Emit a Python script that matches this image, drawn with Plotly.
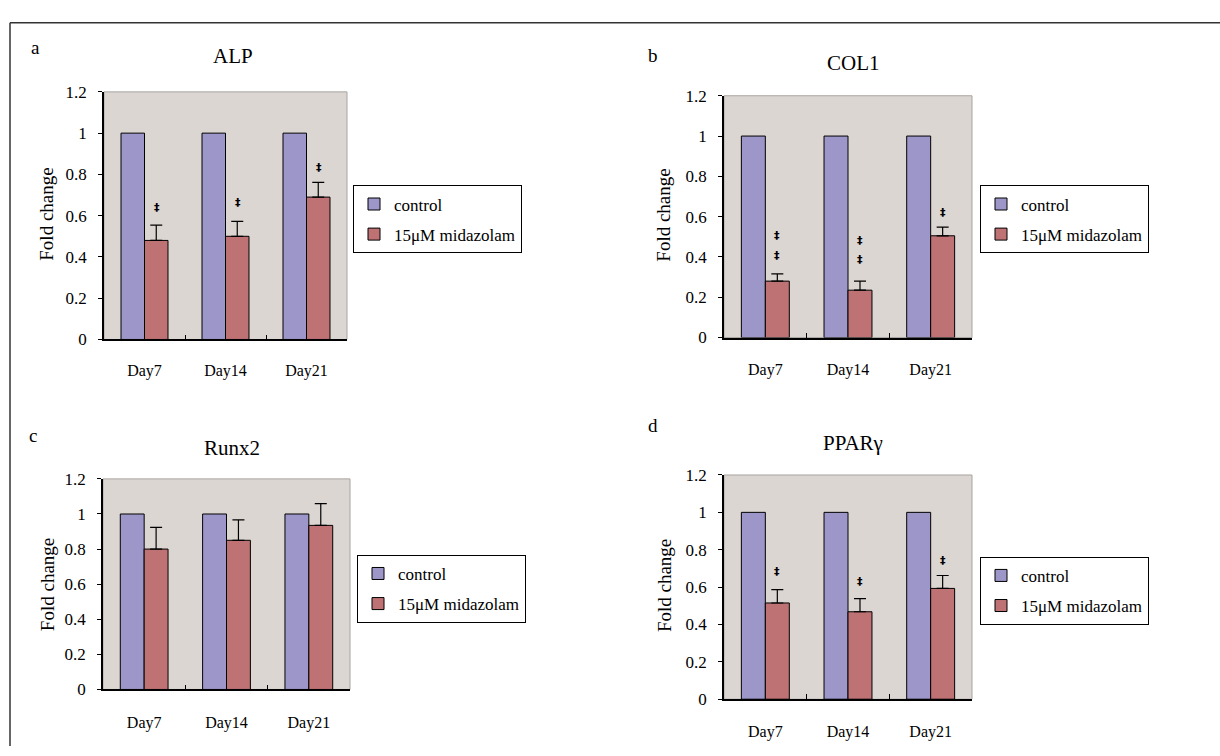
import plotly.graph_objects as go

# ---------------- data ----------------
days = ["Day7", "Day14", "Day21"]
series_names = ["control", "15μM midazolam"]

control_alp = [1.0, 1.0, 1.0]
mid_alp = [0.48, 0.50, 0.69]
err_alp = [0.074, 0.072, 0.071]
star_alp = [[0.64], [0.665], [0.835]]

control_col1 = [1.0, 1.0, 1.0]
mid_col1 = [0.28, 0.235, 0.505]
err_col1 = [0.036, 0.045, 0.043]
star_col1 = [[0.405, 0.506], [0.387, 0.482], [0.62]]

control_runx2 = [1.0, 1.0, 1.0]
mid_runx2 = [0.80, 0.85, 0.935]
err_runx2 = [0.124, 0.117, 0.124]
star_runx2 = [[], [], []]

control_ppar = [1.0, 1.0, 1.0]
mid_ppar = [0.515, 0.468, 0.593]
err_ppar = [0.071, 0.070, 0.069]
star_ppar = [[0.686], [0.63], [0.742]]

titles = ["ALP", "COL1", "Runx2", "PPARγ"]
panel_letters = ["a", "b", "c", "d"]
ytick_vals = [0, 0.2, 0.4, 0.6, 0.8, 1.0, 1.2]
ytick_text = ["0", "0.2", "0.4", "0.6", "0.8", "1", "1.2"]
ytitle = "Fold change"

# ---------------- styling / layout ----------------
W, H = 1220, 756
FONT = "Liberation Serif, Times New Roman, serif"
C_CTRL = "#9D97C9"
C_MID = "#BE7274"
BG = "#DCD6D3"


def px_x(v):
    return v / W


def px_y(v):
    return 1 - v / H


panels = [
    dict(ctrl=control_alp, mid=mid_alp, err=err_alp, stars=star_alp,
         xd=(104, 347), yd=(85, 339), title=(233, 48), letter=(35, 39),
         ytitle=(47, 211), legend=(353, 181), stand=16),
    dict(ctrl=control_col1, mid=mid_col1, err=err_col1, stars=star_col1,
         xd=(724, 972), yd=(89, 337), title=(853, 55), letter=(653, 48),
         ytitle=(664, 212), legend=(980, 181), stand=17),
    dict(ctrl=control_runx2, mid=mid_runx2, err=err_runx2, stars=star_runx2,
         xd=(103, 350), yd=(482, 698), title=(232, 450), letter=(33, 438),
         ytitle=(47, 591), legend=(357, 560), stand=18),
    dict(ctrl=control_ppar, mid=mid_ppar, err=err_ppar, stars=star_ppar,
         xd=(724, 972), yd=(478, 708), title=(853, 445), letter=(653, 427),
         ytitle=(664, 592), legend=(980, 562), stand=17),
]

fig = go.Figure()
annotations = []
shapes = []
layout_axes = {}

for i, p in enumerate(panels):
    k = "" if i == 0 else str(i + 1)
    xa, ya = "x" + k, "y" + k
    leg = "legend" + k
    fig.add_trace(go.Bar(
        x=days, y=p["ctrl"], name=series_names[0], xaxis=xa, yaxis=ya,
        marker=dict(color=C_CTRL, line=dict(color="black", width=1)),
        legend=leg, legendgroup="c" + k, offsetgroup="0",
    ))
    fig.add_trace(go.Bar(
        x=days, y=p["mid"], name=series_names[1], xaxis=xa, yaxis=ya,
        marker=dict(color=C_MID, line=dict(color="black", width=1)),
        error_y=dict(type="data", array=p["err"], arrayminus=[0] * 3,
                     symmetric=False, color="black", thickness=1.2, width=6),
        legend=leg, legendgroup="m" + k, offsetgroup="1",
    ))

    layout_axes["xaxis" + k] = dict(
        domain=[px_x(p["xd"][0]), px_x(p["xd"][1])], anchor=ya,
        type="category", showline=True, linecolor="black", linewidth=1.5,
        ticks="inside", tickson="boundaries", ticklen=5, tickcolor="black",
        tickwidth=1, showgrid=False, zeroline=False,
        tickfont=dict(family=FONT, size=16, color="black"),
        ticklabelstandoff=p["stand"],
    )
    layout_axes["yaxis" + k] = dict(
        domain=[px_y(p["yd"][1]), px_y(p["yd"][0])], anchor=xa,
        range=[0, 1.2], tickvals=ytick_vals, ticktext=ytick_text,
        showline=True, linecolor="black", linewidth=1.5,
        ticks="outside", ticklen=4, tickcolor="black", tickwidth=1,
        showgrid=False, zeroline=False,
        tickfont=dict(family=FONT, size=17, color="black"),
        ticklabelstandoff=8,
    )
    layout_axes[leg] = dict(
        x=px_x(p["legend"][0]), y=px_y(p["legend"][1]),
        xanchor="left", yanchor="top", xref="paper", yref="paper",
        bgcolor="white", bordercolor="black", borderwidth=1,
        font=dict(family=FONT, size=17, color="black"),
        tracegroupgap=5, traceorder="grouped", itemwidth=30,
    )

    # plot-area border (top/right in grey)
    shapes.append(dict(type="rect", xref=xa + " domain", yref=ya + " domain",
                       x0=0, x1=1, y0=0, y1=1,
                       line=dict(color="#A8A4A2", width=1), layer="below"))

    # significance marks
    for j, ys in enumerate(p["stars"]):
        for yv in ys:
            annotations.append(dict(
                x=days[j], y=yv, xref=xa, yref=ya, text="<b>‡</b>", showarrow=False,
                xshift=12, font=dict(family="DejaVu Sans", size=11, color="black"),
            ))

    # title, letter, y-axis title
    annotations.append(dict(
        x=px_x(p["title"][0]), y=px_y(p["title"][1]), xref="paper", yref="paper",
        text=titles[i], showarrow=False, xanchor="center", yanchor="middle",
        font=dict(family=FONT, size=21, color="black")))
    annotations.append(dict(
        x=px_x(p["letter"][0]), y=px_y(p["letter"][1]), xref="paper", yref="paper",
        text=panel_letters[i], showarrow=False, xanchor="center", yanchor="middle",
        font=dict(family=FONT, size=19, color="black")))
    annotations.append(dict(
        x=px_x(p["ytitle"][0]), y=px_y(p["ytitle"][1]), xref="paper", yref="paper",
        text=ytitle, showarrow=False, textangle=-90, xanchor="center", yanchor="middle",
        font=dict(family=FONT, size=19, color="black")))

# outer figure frame (top and left edges)
shapes.append(dict(type="line", xref="paper", yref="paper",
                   x0=px_x(10), x1=1, y0=px_y(14), y1=px_y(14),
                   line=dict(color="#333333", width=1.5)))
shapes.append(dict(type="line", xref="paper", yref="paper",
                   x0=px_x(10), x1=px_x(10), y0=px_y(14), y1=0,
                   line=dict(color="#333333", width=1.5)))

fig.update_layout(
    width=W, height=H, margin=dict(l=0, r=0, t=0, b=0),
    paper_bgcolor="white", plot_bgcolor=BG,
    barmode="group", bargap=0.42, bargroupgap=0,
    annotations=annotations, shapes=shapes,
    font=dict(family=FONT, color="black"),
    **layout_axes,
)

fig.write_html("out.html")
